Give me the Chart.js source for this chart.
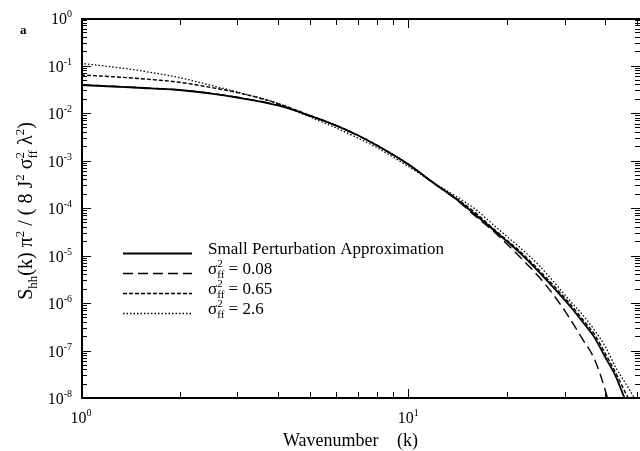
<!DOCTYPE html>
<html>
<head>
<meta charset="utf-8">
<script src="https://cdn.jsdelivr.net/npm/chart.js@4"></script>
<style>
  html, body { margin: 0; padding: 0; background: #fff; overflow: hidden; }
</style>
</head>
<body>
<canvas id="spectrum" width="640" height="451"></canvas>
<script>
// wavenumber grid (k)
const wavenumber = [1, 1.25, 1.5, 2, 2.5, 3, 4, 5, 6, 7, 8, 10, 12, 14, 16, 18, 20, 22, 25, 28, 31, 34, 37, 40, 43, 46, 50];

// Small Perturbation Approximation
const smallPerturbation = [0.0388, 0.0361, 0.034, 0.0305, 0.0257, 0.0212, 0.01445, 0.00881, 0.00548, 0.0034, 0.0021,
  8.3e-4, 3.28e-4, 1.55e-4, 7.29e-5, 3.70e-5, 1.98e-5, 1.11e-5, 4.58e-6, 1.97e-6, 8.95e-7, 4.08e-7, 1.89e-7,
  7.13e-8, 2.86e-8, 9.1e-9, 3e-9];

// sigma_ff^2 = 0.08
const sigma008 = [0.0395, 0.0365, 0.0342, 0.0307, 0.0259, 0.0214, 0.0146, 0.0088, 0.00546, 0.00338, 0.00208,
  8.2e-4, 3.25e-4, 1.52e-4, 6.79e-5, 3.44e-5, 1.75e-5, 9.08e-6, 3.61e-6, 1.37e-6, 4.95e-7, 1.75e-7, 6.62e-8,
  1.4e-8, 2e-9, 5e-10, 1e-10];

// sigma_ff^2 = 0.65
const sigma065 = [0.063, 0.0581, 0.0532, 0.0443, 0.0344, 0.027, 0.0158, 0.0089, 0.0055, 0.00342, 0.00211,
  8.3e-4, 3.3e-4, 1.6e-4, 8.0e-5, 3.9e-5, 2.1e-5, 1.2e-5, 5.0e-6, 2.2e-6, 1.0e-6, 4.6e-7, 2.2e-7,
  8.5e-8, 3.4e-8, 1.3e-8, 4.5e-9];

// sigma_ff^2 = 2.6
const sigma26 = [0.111, 0.093, 0.0785, 0.0556, 0.038, 0.0277, 0.0158, 0.00824, 0.00488, 0.00298, 0.00188,
  7.48e-4, 3.36e-4, 1.75e-4, 9.5e-5, 4.7e-5, 2.51e-5, 1.44e-5, 6.3e-6, 2.64e-6, 1.16e-6, 5.73e-7, 2.7e-7,
  1.19e-7, 4.39e-8, 2.07e-8, 8e-9];

const yTickExps = [0, -1, -2, -3, -4, -5, -6, -7, -8];
const xTickExps = [0, 1];
const sigmaLabels = ['0.08', '0.65', '2.6'];
const firstLegendLabel = 'Small Perturbation Approximation';

const FONT = '"Liberation Serif", "DejaVu Serif", serif';

const pts = (ys) => wavenumber.map((k, i) => ({ x: k, y: ys[i] }));

// --- text with sub/superscripts ---
// seg: {t, f} f = 'n' | 'sup' | 'sub' | 'ss' (t = [sub, sup])
function segWidth(ctx, s, size) {
  const small = Math.round(size * 0.65);
  if (s.f === 'n') { ctx.font = size + 'px ' + FONT; return ctx.measureText(s.t).width; }
  ctx.font = small + 'px ' + FONT;
  if (s.f === 'ss') return Math.max(ctx.measureText(s.t[0]).width, ctx.measureText(s.t[1]).width);
  return ctx.measureText(s.t).width;
}
function drawRich(ctx, segs, x, y, size, align) {
  const small = Math.round(size * 0.65);
  let total = 0;
  segs.forEach((s) => (total += segWidth(ctx, s, size)));
  let cx = align === 'center' ? x - total / 2 : align === 'right' ? x - total : x;
  ctx.textAlign = 'left';
  ctx.textBaseline = 'alphabetic';
  segs.forEach((s) => {
    const w = segWidth(ctx, s, size);
    if (s.f === 'n') {
      ctx.font = size + 'px ' + FONT;
      ctx.fillText(s.t, cx, y);
    } else {
      ctx.font = small + 'px ' + FONT;
      if (s.f === 'sup') ctx.fillText(s.t, cx, y - size * 0.42);
      else if (s.f === 'sub') ctx.fillText(s.t, cx, y + size * 0.25);
      else {
        ctx.fillText(s.t[0], cx, y + size * 0.25);
        ctx.fillText(s.t[1], cx, y - size * 0.42);
      }
    }
    cx += w;
  });
}

const framePlugin = {
  id: 'frame',
  afterDraw(chart) {
    const ctx = chart.ctx;
    const { left, right, top, bottom } = chart.chartArea;
    const xs = chart.scales.x;
    const ys = chart.scales.y;
    ctx.save();
    ctx.strokeStyle = '#000';
    ctx.fillStyle = '#000';

    // frame
    ctx.lineWidth = 2;
    ctx.beginPath();
    ctx.moveTo(right, top + 1);
    ctx.lineTo(left + 1, top + 1);
    ctx.lineTo(left + 1, bottom);
    ctx.lineTo(right, bottom);
    ctx.stroke();

    // ticks (inside, all sides)
    ctx.lineWidth = 1;
    ctx.beginPath();
    for (let e = 0; e >= -8; e--) {
      for (let m = 1; m <= 9; m++) {
        const v = m * Math.pow(10, e - 1) * 10;
        if (v > 1.0001 || v < 0.99e-8) continue;
        const py = Math.round(ys.getPixelForValue(v)) + 0.5;
        const len = m === 1 ? 9 : 5;
        ctx.moveTo(left + 1, py); ctx.lineTo(left + 1 + len, py);
        ctx.moveTo(right, py); ctx.lineTo(right - len, py);
      }
    }
    for (let e = 0; e <= 1; e++) {
      for (let m = 1; m <= 9; m++) {
        const v = m * Math.pow(10, e);
        if (v > xs.max) continue;
        const px = Math.round(xs.getPixelForValue(v)) + 0.5;
        const len = m === 1 ? 9 : 6;
        ctx.moveTo(px, bottom); ctx.lineTo(px, bottom - len);
        ctx.moveTo(px, top + 1); ctx.lineTo(px, top + 1 + len);
      }
    }
    ctx.stroke();

    // tick labels
    yTickExps.forEach((e) => {
      const py = ys.getPixelForValue(Math.pow(10, e));
      drawRich(ctx, [{ t: '10', f: 'n' }, { t: String(e), f: 'sup' }], 72, py + 6, 16, 'right');
    });
    xTickExps.forEach((e) => {
      const px = xs.getPixelForValue(Math.pow(10, e));
      drawRich(ctx, [{ t: '10', f: 'n' }, { t: String(e), f: 'sup' }], px, 423, 16, 'center');
    });

    // x title
    drawRich(ctx, [{ t: 'Wavenumber', f: 'n' }], 283, 446, 18, 'left');
    drawRich(ctx, [{ t: '(k)', f: 'n' }], 397, 446, 18, 'left');

    // y title (rotated)
    ctx.save();
    ctx.translate(32, 211);
    ctx.rotate(-Math.PI / 2);
    drawRich(ctx, [
      { t: 'S', f: 'n' }, { t: 'hh', f: 'sub' }, { t: '(k) \u03c0', f: 'n' }, { t: '2', f: 'sup' },
      { t: ' / ( 8 J', f: 'n' }, { t: '2', f: 'sup' }, { t: ' \u03c3', f: 'n' }, { t: ['ff', '2'], f: 'ss' },
      { t: ' \u03bb', f: 'n' }, { t: '2', f: 'sup' }, { t: ')', f: 'n' }
    ], 0, 0, 20, 'center');
    ctx.restore();

    // panel letter
    ctx.font = 'bold 13px ' + FONT;
    ctx.textAlign = 'left';
    ctx.fillText('a', 20, 34);

    // legend
    const rows = [253, 273, 293, 313];
    chart.data.datasets.forEach((ds, i) => {
      const y = rows[i] + 0.5;
      ctx.lineWidth = ds.borderWidth;
      ctx.setLineDash(ds.borderDash || []);
      ctx.beginPath();
      ctx.moveTo(123, y);
      ctx.lineTo(192, y);
      ctx.stroke();
      ctx.setLineDash([]);
      const segs = i === 0
        ? [{ t: firstLegendLabel, f: 'n' }]
        : [{ t: '\u03c3', f: 'n' }, { t: ['ff', '2'], f: 'ss' }, { t: ' = ' + sigmaLabels[i - 1], f: 'n' }];
      drawRich(ctx, segs, 208, rows[i] + 1, 17, 'left');
    });
    ctx.restore();
  }
};

new Chart(document.getElementById('spectrum'), {
  type: 'line',
  data: {
    datasets: [
      { label: firstLegendLabel, data: pts(smallPerturbation), borderColor: '#000', borderWidth: 1.8, borderDash: [] },
      { label: '0.08', data: pts(sigma008), borderColor: '#000', borderWidth: 1.4, borderDash: [10, 5] },
      { label: '0.65', data: pts(sigma065), borderColor: '#000', borderWidth: 1.4, borderDash: [4, 2] },
      { label: '2.6', data: pts(sigma26), borderColor: '#000', borderWidth: 1.3, borderDash: [1.5, 2] }
    ]
  },
  options: {
    responsive: false,
    animation: false,
    devicePixelRatio: 1,
    layout: { padding: { left: 81, top: 18, right: 0, bottom: 53 } },
    elements: { point: { radius: 0 }, line: { cubicInterpolationMode: 'monotone', fill: false } },
    plugins: { legend: { display: false }, tooltip: { enabled: false } },
    scales: {
      x: { type: 'logarithmic', min: 1, max: 51, display: false },
      y: { type: 'logarithmic', min: 1e-8, max: 1, display: false }
    }
  },
  plugins: [framePlugin]
});
</script>
</body>
</html>
